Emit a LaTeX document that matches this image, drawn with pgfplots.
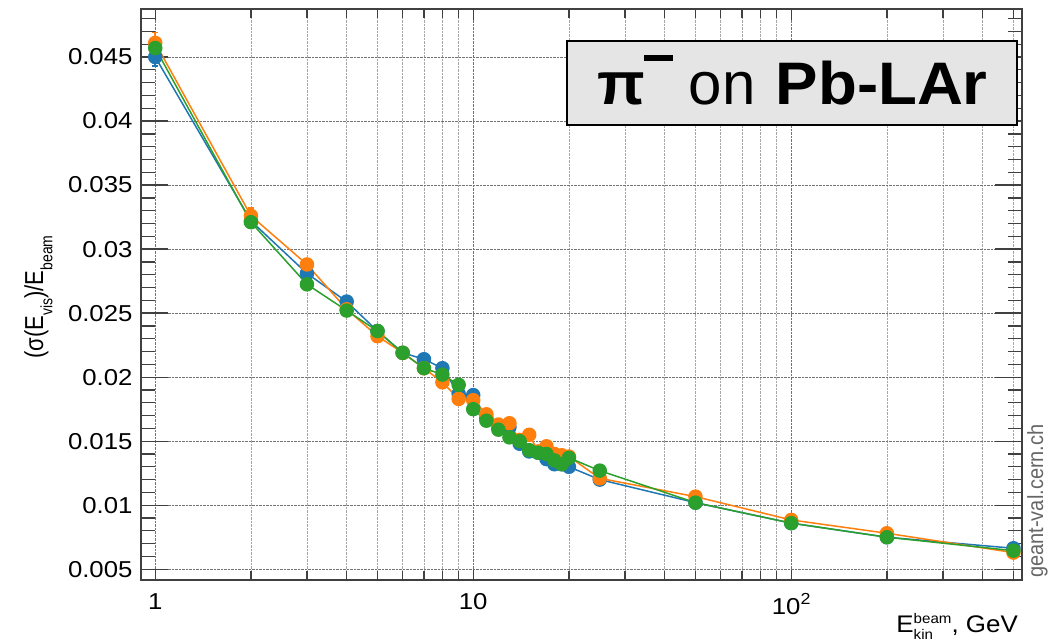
\documentclass[border=0pt]{standalone}
\usepackage{fontspec}
\setmainfont{Liberation Sans}
\usepackage{graphicx}
\usepackage{pgfplots}
\pgfplotsset{compat=1.18}
\definecolor{cB}{HTML}{1F77B4}
\definecolor{cO}{HTML}{FF7F0E}
\definecolor{cG}{HTML}{2CA02C}
\newcommand\tkl[1]{\scalebox{1.12}[1]{\fontsize{23}{23}\selectfont #1}}
\pgfplotsset{
  myframe/.style={
    at={(141pt,60pt)}, anchor=south west,
    width=881pt, height=571pt, scale only axis,
    xmin=0.902, xmax=532, ymin=0.00416, ymax=0.04875,
    axis line style={black!75, line width=1.3pt},
    tick style={black!75, line width=1.3pt},
    major grid style={densely dotted, black!55, line width=0.8pt},
    minor grid style={densely dotted, black!35, line width=0.8pt},
    /pgf/number format/assume math mode=true,
    scaled y ticks=false,
  }
}
\begin{document}
\begin{tikzpicture}
\useasboundingbox (0,0) rectangle (1049pt,640pt);
% axis carrying the x ticks and vertical grid
\begin{axis}[xmode=log, myframe,
  xtick={1,10,100},
  xticklabels={\tkl{1},\tkl{10},{\tkl{10}\raisebox{10pt}{\scalebox{1.12}[1]{\fontsize{16}{16}\selectfont 2}}}},
  minor xtick={2,3,4,5,6,7,8,9,20,30,40,50,60,70,80,90,200,300,400,500},
  ytick=\empty,
  xmajorgrids, xminorgrids,
  major tick length=11pt, minor tick length=9pt,
  xticklabel style={yshift=-10pt},
]
\end{axis}
% axis carrying the y ticks, horizontal grid and the data
\begin{axis}[xmode=log, myframe,
  xtick=\empty,
  ytick={0.005,0.01,0.015,0.02,0.025,0.03,0.035,0.04,0.045},
  yticklabels={\tkl{0.005},\tkl{0.01},\tkl{0.015},\tkl{0.02},\tkl{0.025},\tkl{0.03},\tkl{0.035},\tkl{0.04},\tkl{0.045}},
  minor ytick={0.006,0.007,0.008,0.009,0.011,0.012,0.013,0.014,0.016,0.017,0.018,0.019,0.021,0.022,0.023,0.024,0.026,0.027,0.028,0.029,0.031,0.032,0.033,0.034,0.036,0.037,0.038,0.039,0.041,0.042,0.043,0.044,0.046,0.047,0.048},
  ymajorgrids,
  major tick length=27pt, minor tick length=14pt,
  yticklabel style={xshift=-5pt},
  every axis plot/.append style={line width=1.5pt, mark=*, mark size=6.5pt},
  error bars/y dir=both, error bars/y explicit,
  error bars/error bar style={line width=1.5pt},
  error bars/error mark options={rotate=90, mark size=3pt, line width=1.5pt},
]
\addplot[cB, mark options={fill=cB, draw=cB}] coordinates {
(1,0.0450) +- (0,0.0007)
(2,0.0322) +- (0,0.0005)
(3,0.0281) +- (0,0.0004)
(4,0.0259) +- (0,0.0003)
(5,0.0236) +- (0,0.0003)
(6,0.0219) +- (0,0.0003)
(7,0.0214) +- (0,0.0003)
(8,0.0207) +- (0,0.0003)
(9,0.0187) +- (0,0.0003)
(10,0.0186) +- (0,0.0003)
(11,0.0168) +- (0,0.0003)
(12,0.0160) +- (0,0.0003)
(13,0.0161) +- (0,0.0003)
(14,0.0148) +- (0,0.0003)
(15,0.0142) +- (0,0.0003)
(16,0.0141) +- (0,0.0003)
(17,0.0136) +- (0,0.0003)
(18,0.0132) +- (0,0.0003)
(19,0.0132) +- (0,0.0003)
(20,0.0130) +- (0,0.0003)
(25,0.0120) +- (0,0.0002)
(50,0.0102) +- (0,0.0002)
(100,0.0086) +- (0,0.0002)
(200,0.0075) +- (0,0.0002)
(500,0.00664) +- (0,0.0002)
};
\addplot[cO, mark options={fill=cO, draw=cO}] coordinates {
(1,0.0461) +- (0,0.0008)
(2,0.0326) +- (0,0.0006)
(3,0.0288) +- (0,0.0004)
(4,0.0253) +- (0,0.0003)
(5,0.0232) +- (0,0.0003)
(6,0.0219) +- (0,0.0003)
(7,0.0207) +- (0,0.0003)
(8,0.0196) +- (0,0.0003)
(9,0.0183) +- (0,0.0003)
(10,0.0182) +- (0,0.0003)
(11,0.0171) +- (0,0.0003)
(12,0.0163) +- (0,0.0003)
(13,0.0164) +- (0,0.0003)
(14,0.0151) +- (0,0.0003)
(15,0.0155) +- (0,0.0003)
(16,0.0142) +- (0,0.0003)
(17,0.0146) +- (0,0.0003)
(18,0.0140) +- (0,0.0003)
(19,0.0139) +- (0,0.0003)
(20,0.0138) +- (0,0.0003)
(25,0.0121) +- (0,0.0002)
(50,0.01067) +- (0,0.0002)
(100,0.00885) +- (0,0.0002)
(200,0.00781) +- (0,0.0002)
(500,0.0063) +- (0,0.0002)
};
\addplot[cG, mark options={fill=cG, draw=cG}] coordinates {
(1,0.0457) +- (0,0.0007)
(2,0.0321) +- (0,0.0005)
(3,0.02725) +- (0,0.0004)
(4,0.0252) +- (0,0.0003)
(5,0.0236) +- (0,0.0003)
(6,0.0219) +- (0,0.0003)
(7,0.0207) +- (0,0.0003)
(8,0.0202) +- (0,0.0003)
(9,0.0194) +- (0,0.0003)
(10,0.0175) +- (0,0.0003)
(11,0.0166) +- (0,0.0003)
(12,0.0159) +- (0,0.0003)
(13,0.0153) +- (0,0.0003)
(14,0.0150) +- (0,0.0003)
(15,0.0143) +- (0,0.0003)
(16,0.0141) +- (0,0.0003)
(17,0.0140) +- (0,0.0003)
(18,0.0135) +- (0,0.0003)
(19,0.0132) +- (0,0.0003)
(20,0.0137) +- (0,0.0003)
(25,0.0127) +- (0,0.0002)
(50,0.0102) +- (0,0.0002)
(100,0.0086) +- (0,0.0002)
(200,0.0075) +- (0,0.0002)
(500,0.00645) +- (0,0.0002)
};
\end{axis}
% title box
\node[draw=black, line width=1.5pt, fill=black!10, minimum width=450pt, minimum height=84pt, inner sep=0pt] at (792pt,557pt) {};
\node[anchor=base west, inner sep=0pt] at (597pt,535pt) {\fontsize{60}{60}\selectfont\scalebox{1.04}[1]{\textbf{π}}\hspace{-1pt}\rule[44pt]{29pt}{6pt}\hspace{16pt}on\hspace{20pt}\scalebox{1.06}[1]{\textbf{Pb-LAr}}};
% y label
\node[rotate=90, anchor=base, inner sep=0pt] at (43pt,343pt) {\scalebox{1}[1.18]{\fontsize{22}{22}\selectfont (σ(E\raisebox{-8pt}{\fontsize{14}{14}\selectfont vis})/E\raisebox{-8pt}{\fontsize{14}{14}\selectfont beam}}};
% x label
\node[anchor=base east, inner sep=0pt] at (1018pt,8pt) {\scalebox{1.08}[1]{\fontsize{24}{24}\selectfont E\rlap{\raisebox{-7pt}{\fontsize{14}{14}\selectfont kin}}\raisebox{8.5pt}{\fontsize{14}{14}\selectfont beam}, GeV}};
% watermark
\node[rotate=90, anchor=base west, inner sep=0pt, text=black!60] at (1043pt,62pt) {\scalebox{1}[1.1]{\fontsize{20}{20}\selectfont geant-val.cern.ch}};
\end{tikzpicture}
\end{document}
